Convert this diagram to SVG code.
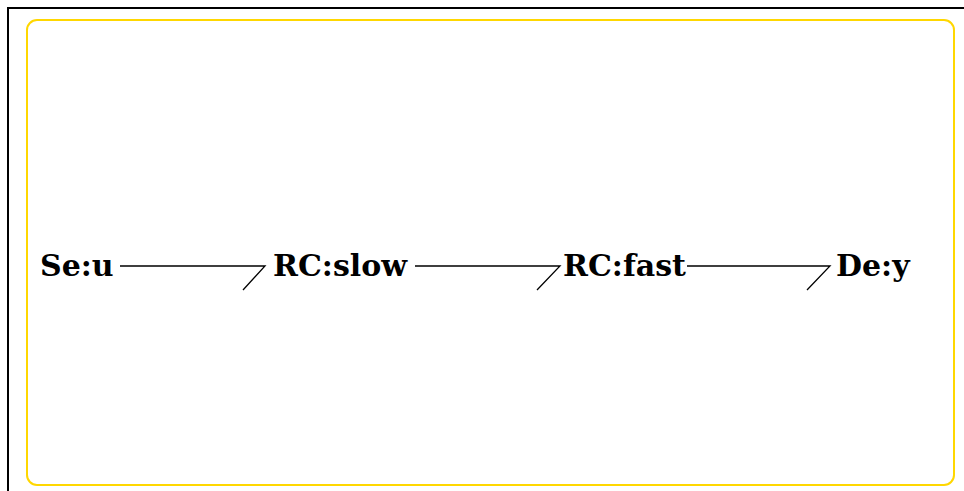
<svg xmlns="http://www.w3.org/2000/svg" width="964" height="491" viewBox="0 0 964 491">
<style>
.lbl{font-family:"DejaVu Serif","Liberation Serif",serif;font-weight:bold;font-size:30px;fill:#000}
.c{stroke:#000;stroke-width:1.3;fill:none}
</style>
<rect x="0" y="0" width="964" height="491" fill="#fff"/>
<rect x="8" y="8" width="1000" height="600" fill="none" stroke="#000" stroke-width="2"/>
<rect x="27" y="20" width="927" height="465" rx="10" ry="10" fill="none" stroke="#FFD700" stroke-width="2"/>
<g id="connectors">
<path class="c" d="M120 266H265L243 290"/>
<path class="c" d="M415 266H560L537 290"/>
<path class="c" d="M687 266H830L807 290"/>
</g>
<g id="n1"><text class="lbl" x="40" y="276">Se:u</text></g>
<g id="n2"><text class="lbl" x="273" y="276">RC:slow</text></g>
<g id="n3"><text class="lbl" x="563" y="276">RC:fast</text></g>
<g id="n4"><text class="lbl" x="836" y="276">De:y</text></g>
</svg>
